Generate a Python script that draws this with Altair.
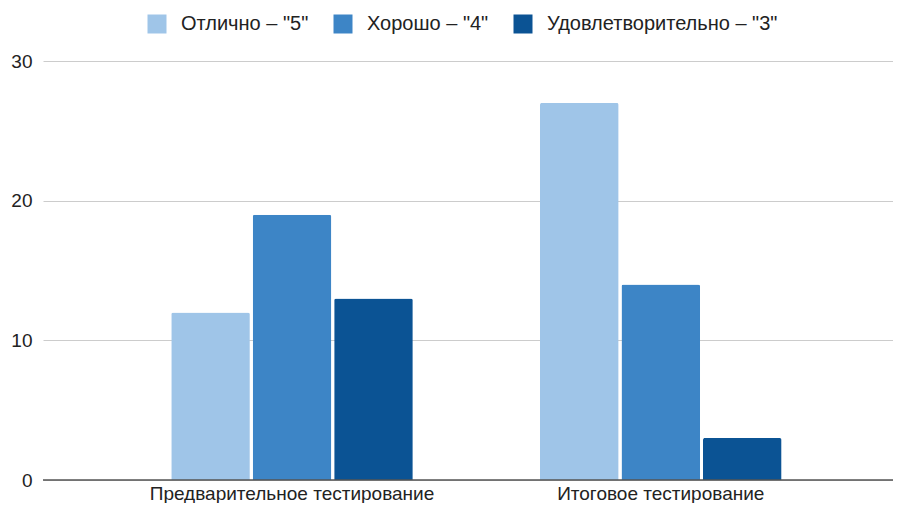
import altair as alt
import pandas as pd

groups = ["Предварительное тестирование", "Итоговое тестирование"]
series = ['Отлично – "5"', 'Хорошо – "4"', 'Удовлетворительно – "3"']
values = {
    'Отлично – "5"': [12, 27],
    'Хорошо – "4"': [19, 14],
    'Удовлетворительно – "3"': [13, 3],
}
colors = ["#9fc5e8", "#3d85c6", "#0b5394"]

rows = []
for s in series:
    for g, v in zip(groups, values[s]):
        rows.append({"group": g, "series": s, "value": v})
df = pd.DataFrame(rows)

FONT = "Liberation Sans"
FS = 19

bars = alt.Chart(df).mark_bar(cornerRadiusTopLeft=2, cornerRadiusTopRight=2).encode(
    x=alt.X("group:N", sort=groups, title=None,
            scale=alt.Scale(paddingInner=0.345, paddingOuter=0.325, align=0.535),
            axis=alt.Axis(labelAngle=0, labelFontSize=FS, labelColor="#222222",
                          labelFont=FONT, domain=False, ticks=False, labelPadding=4,
                          labelLimit=0)),
    xOffset=alt.XOffset("series:N", sort=series, scale=alt.Scale(paddingInner=0.035)),
    y=alt.Y("value:Q", title=None,
            scale=alt.Scale(domain=[0, 30], nice=False),
            axis=alt.Axis(values=[0, 10, 20, 30], labelFontSize=FS, labelColor="#222222",
                          labelFont=FONT, domain=False, ticks=False, labelPadding=11,
                          gridColor="#cccccc", gridWidth=1)),
    color=alt.Color("series:N", sort=series,
                    scale=alt.Scale(domain=series, range=colors),
                    legend=alt.Legend(title=None, orient="none", direction="horizontal",
                                      legendX=104, legendY=-47,
                                      symbolType="square", symbolSize=361,
                                      symbolStrokeWidth=0, labelFontSize=20,
                                      labelFont=FONT, labelColor="#222222",
                                      labelLimit=0, labelOffset=14, columnPadding=24)),
)

zero = alt.Chart(pd.DataFrame({"y": [0]})).mark_rule(color="#555555", strokeWidth=1.5).encode(
    y=alt.Y("y:Q")
)

chart = alt.layer(bars, zero).properties(
    width=850, height=419,
    autosize=alt.AutoSizeParams(type="none"),
    padding={"left": 35, "top": 53, "right": 0, "bottom": 23},
).configure_view(stroke=None)

chart.save("out.html", embed_options={"renderer": "svg", "actions": False})
